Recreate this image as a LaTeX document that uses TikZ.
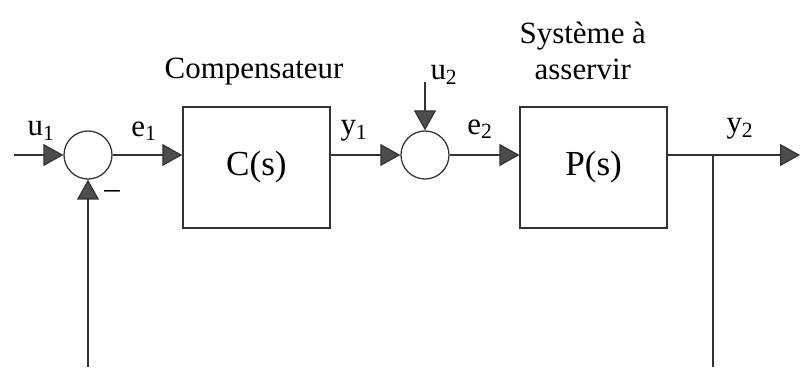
\documentclass[tikz,border=0pt]{standalone}
\usepackage{fontspec}
\setmainfont{Liberation Serif}
\usetikzlibrary{arrows.meta, calc}
\definecolor{LineGray}{HTML}{333333}
\definecolor{TipGray}{HTML}{4D4D4D}
\tikzset{
    block/.style={
        draw=LineGray,
        line width=0.9pt,
        minimum width=3.675cm,
        minimum height=3.025cm,
        font=\fontsize{25}{30}\selectfont
    },
    sumnode/.style={
        circle,
        draw=LineGray,
        line width=0.9pt,
        minimum size=1.2cm,
        inner sep=0pt
    },
    arrow/.style={
        -{Triangle[length=0.5cm, width=0.55cm, fill=TipGray]},
        line width=0.9pt,
        LineGray
    },
    line/.style={
        line width=0.9pt,
        LineGray
    },
    lbl/.style={
        font=\fontsize{22}{26}\selectfont,
        inner sep=0pt
    }
}
\begin{document}
\begin{tikzpicture}
                \useasboundingbox (0,0) rectangle (20,9.175);
                \node[sumnode] (s1) at (2.2,5.3) {};
                \node[block] (C) at (6.41,4.99) {C(s)};
                \node[sumnode] (s2) at (10.625,5.3) {};
                \node[block] (P) at (14.84,4.99) {P(s)};

                \coordinate (in) at (0.35,5.3);
                \coordinate (u2top) at (10.625,7.125);
                \coordinate (br) at (17.825,5.3);
                \coordinate (out) at (20,5.3);
                \coordinate (fbR) at (17.825,0);
                \coordinate (fbL) at (2.2,0);

                \node[lbl] (u1) at (1.03,5.9) {u\textsubscript{1}};
                \node[lbl] (e1) at (3.6,5.9) {e\textsubscript{1}};
                \node[lbl] (y1) at (8.85,5.9) {y\textsubscript{1}};
                \node[lbl] (u2) at (11.1,7.3) {u\textsubscript{2}};
                \node[lbl] (e2) at (12.0,5.95) {e\textsubscript{2}};
                \node[lbl] (y2) at (18.5,5.95) {y\textsubscript{2}};
                \node[lbl] (minus) at (2.8,4.3) {--};
                \node[lbl] (comp) at (6.35,7.375) {Compensateur};
                \node[lbl, align=center] (sys) at (14.57,7.9) {Système à\\asservir};

                \draw[arrow] (in) -- (s1.west);
                \draw[arrow] (s1.east) -- (s1 -| C.west);
                \draw[arrow] (s1 -| C.east) -- (s2.west);
                \draw[arrow] (u2top) -- (s2.north);
                \draw[arrow] (s2.east) -- (s2 -| P.west);
                \draw[arrow] (s2 -| P.east) -- (out);

                % Feedback branches
                \draw[line] (br) -- (fbR);
                \draw[arrow] (fbL) -- (s1.south);
            \end{tikzpicture}
\end{document}
